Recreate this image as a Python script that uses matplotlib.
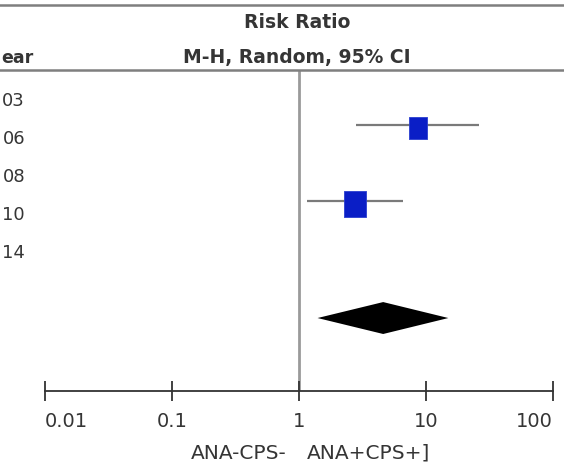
import matplotlib
matplotlib.use("Agg")
import matplotlib.pyplot as plt
import matplotlib.transforms as mtransforms
from matplotlib.lines import Line2D

# ---- data ----
# study year labels as visible in the (left-cropped) reference
study_years = ["03", "06", "08", "10", "14"]
year_header = "ear"
study_rows = [0, 1, 2, 3, 4]
est_rows = [1, 3]                 # studies with estimable RR (2006, 2010)
rr = [8.7, 2.75]
ci_low = [2.8, 1.15]
ci_high = [26.0, 6.6]
box_size = [15.8, 18.7]           # marker heights (pt), weight-based
pooled_row = 6
pooled_rr = 4.6
pooled_low = 1.4
pooled_high = 15.0
xticks = [0.01, 0.1, 1, 10, 100]
xtick_labels = ["0.01", "0.1", "1", "10", "100"]
favours_left = "ANA-CPS-"
favours_right = "ANA+CPS+]"

W, H = 564, 464
fig = plt.figure(figsize=(W / 100, H / 100), dpi=100)
fig.patch.set_facecolor("white")

def fx(px):
    return px / W

def fy(py):
    return 1 - py / H

txt_col = "#353535"

# axes area: x 45..553, y 71..392 px
ax = fig.add_axes([fx(45), fy(392), fx(553) - fx(45), fy(71) - fy(392)])
ax.set_xscale("log")
ax.set_xlim(0.01, 100)
ax.set_ylim(7.92, -0.526)

for s in ["top", "right", "left"]:
    ax.spines[s].set_visible(False)
ax.spines["bottom"].set_color("#333333")
ax.spines["bottom"].set_linewidth(1.3)
ax.set_yticks([])
ax.set_xticks(xticks)
ax.set_xticklabels(xtick_labels, fontsize=14, color=txt_col)
ax.minorticks_off()
ax.tick_params(axis="x", direction="inout", length=14.5, width=1.3,
               color="#333333", pad=7)
labs = ax.get_xticklabels()
labs[0].set_horizontalalignment("left")
labs[-1].set_horizontalalignment("right")

# line of no effect
ax.axvline(1, color="#9a9a9a", lw=2.0, zorder=1)

# study CIs and boxes
rect = [(-0.41, -0.5), (0.41, -0.5), (0.41, 0.5), (-0.41, 0.5), (-0.41, -0.5)]
for r, e, lo, hi, sz in zip(est_rows, rr, ci_low, ci_high, box_size):
    ax.plot([lo, hi], [r - 0.07, r - 0.07], color="#7a7a7a", lw=1.6, zorder=2,
            solid_capstyle="butt")
    ax.plot([e], [r], marker=rect, markersize=sz, color="#0a1ec6",
            markeredgecolor="#2a3ed0", markeredgewidth=0.6, linestyle="none",
            zorder=3)

# pooled diamond
h = 0.42
ax.fill([pooled_low, pooled_rr, pooled_high, pooled_rr],
        [pooled_row, pooled_row - h, pooled_row, pooled_row + h],
        color="black", zorder=3, linewidth=0)

# study labels
lab_tr = mtransforms.blended_transform_factory(fig.transFigure, ax.transData)
for yr, r in zip(study_years, study_rows):
    ax.text(fx(25), r + 0.27, yr, transform=lab_tr, ha="right", va="center",
            fontsize=13, color=txt_col, clip_on=False)

# header
fig.add_artist(Line2D([0, 1], [fy(6), fy(6)], transform=fig.transFigure,
                      color="#7f7f7f", lw=1.8))
fig.add_artist(Line2D([0, 1], [fy(71), fy(71)], transform=fig.transFigure,
                      color="#7f7f7f", lw=1.8))
fig.text(fx(297), fy(22), "Risk Ratio", ha="center", va="center",
         fontsize=13.5, fontweight="bold", color=txt_col)
fig.text(fx(297), fy(58), "M-H, Random, 95% CI", ha="center", va="center",
         fontsize=13.5, fontweight="bold", color=txt_col)
fig.text(fx(1), fy(58), year_header, ha="left", va="center",
         fontsize=12.5, fontweight="bold", color=txt_col)

# favours labels
fig.text(fx(287), fy(459), favours_left, ha="right", va="baseline",
         fontsize=14.5, color=txt_col)
fig.text(fx(307), fy(459), favours_right, ha="left", va="baseline",
         fontsize=14.5, color=txt_col)

fig.savefig("out.png", dpi=100, facecolor="white")
